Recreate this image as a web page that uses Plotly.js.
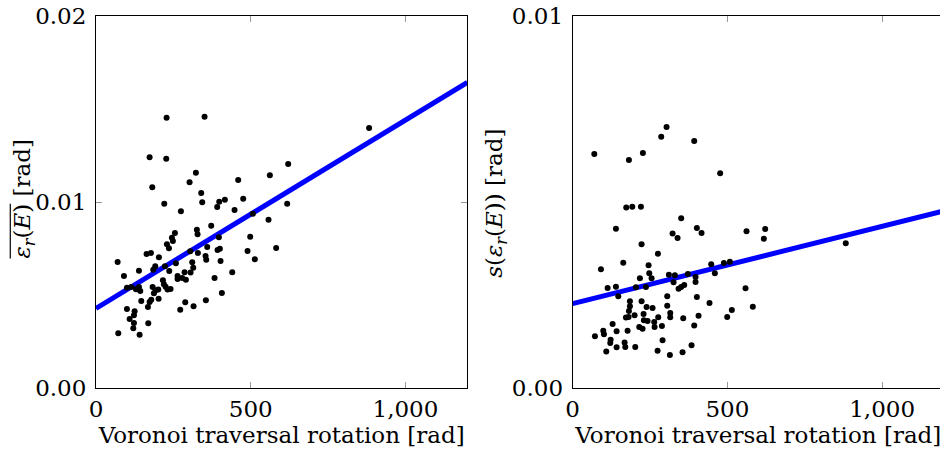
<!DOCTYPE html>
<html>
<head>
<meta charset="utf-8">
<script src="https://cdn.plot.ly/plotly-3.0.1.min.js"></script>
<style>
html,body{margin:0;padding:0;overflow:hidden;background:#fff;}
#chart{width:950px;height:455px;}
</style>
</head>
<body>
<div id="chart"></div>
<script>
// Left panel: mean rotation error vs Voronoi traversal rotation
const meanX = [228.1,350.8,173.2,227.0,322.8,302.4,181.8,459.5,561.8,621.0,340.0,220.6,343.3,398.2,416.5,391.7,475.7,447.7,274.4,617.8,506.9,557.5,326.0,328.2,372.3,255.0,245.3,248.5,229.2,235.6,397.1,359.4,400.3,392.8,498.3,489.7,582.2,513.3,304.5,329.3,354.0,356.2,163.5,177.5,203.3,402.5,69.9,258.2,311.0,191.5,185.0,222.7,236.7,138.8,90.3,314.2,305.6,286.2,263.6,263.6,278.7,290.5,440.2,383.1,216.3,219.5,224.9,231.3,241.0,182.9,192.6,201.2,187.2,100.0,114.0,129.1,138.8,143.1,406.8,202.3,178.6,173.2,146.3,167.8,288.4,315.3,355.1,272.2,100.0,124.8,122.6,108.6,122.6,120.5,168.9,72.0,140.9,882.6];
const meanY = [0.014536,0.014590,0.012403,0.012331,0.011579,0.011059,0.010790,0.011185,0.011435,0.012045,0.010486,0.009912,0.009984,0.010020,0.010127,0.009733,0.010181,0.009572,0.009500,0.009912,0.009375,0.009052,0.008514,0.008263,0.008729,0.008335,0.008084,0.007905,0.007726,0.007511,0.008102,0.007582,0.007493,0.007421,0.008138,0.007367,0.007529,0.006919,0.007349,0.007260,0.007099,0.006901,0.007206,0.007260,0.007027,0.006830,0.006776,0.006704,0.006758,0.006543,0.006364,0.006543,0.006292,0.006310,0.006023,0.006471,0.006203,0.006220,0.006023,0.005862,0.005916,0.005826,0.006220,0.005916,0.005790,0.005575,0.005450,0.005289,0.005324,0.005432,0.005253,0.005289,0.005091,0.005396,0.005432,0.005306,0.005432,0.005217,0.005109,0.004805,0.004751,0.004625,0.004679,0.004357,0.004608,0.004392,0.004715,0.004213,0.004249,0.004124,0.003909,0.003711,0.003496,0.003210,0.003478,0.002941,0.002869,0.013978];

// Right panel: standard deviation of rotation error
const sdX = [69.9,181.8,227.0,286.2,303.4,392.8,476.7,173.2,192.6,220.6,350.8,139.8,401.4,416.5,322.8,339.0,561.8,622.1,617.8,222.7,275.5,91.4,163.5,245.3,247.5,255.0,217.3,311.0,330.4,372.3,397.1,397.1,326.0,360.5,350.8,342.2,447.7,459.5,488.6,508.0,112.9,139.8,147.4,204.4,236.7,558.6,305.6,401.4,442.3,582.2,514.4,499.4,185.0,185.0,181.8,222.7,238.9,258.2,305.6,315.3,315.3,200.1,172.1,229.2,230.2,242.1,276.5,263.6,264.7,288.4,357.3,406.8,392.8,215.2,225.9,129.1,142.0,177.5,98.9,101.1,72.0,122.6,121.5,108.6,142.0,167.8,170.0,202.3,290.5,274.4,314.2,355.1,384.2,180.7,882.6];
const sdY = [0.006291,0.006130,0.006318,0.006757,0.007017,0.006641,0.005772,0.004849,0.004875,0.004875,0.004562,0.004284,0.004302,0.004168,0.004150,0.004033,0.004212,0.004275,0.004015,0.003863,0.003612,0.003191,0.003370,0.003298,0.003083,0.002949,0.002949,0.003047,0.003030,0.003065,0.002985,0.002850,0.002841,0.002770,0.002716,0.002671,0.003325,0.003083,0.003361,0.003397,0.002689,0.002725,0.002465,0.002707,0.002716,0.002680,0.002465,0.002447,0.002286,0.002187,0.002098,0.001909,0.002331,0.002196,0.002071,0.002331,0.002178,0.002151,0.002214,0.002017,0.001901,0.001954,0.001892,0.001990,0.001820,0.001802,0.001901,0.001775,0.001641,0.001668,0.001874,0.001945,0.001677,0.001641,0.001596,0.001721,0.001524,0.001542,0.001542,0.001444,0.001390,0.001300,0.001211,0.000978,0.001094,0.001220,0.001103,0.001103,0.001282,0.001004,0.000888,0.000960,0.001148,0.001909,0.003890];

// Linear fit end points
const fitX = [0, 1200];
const fitMeanY = [0.00428, 0.01643];
const fitSdY = [0.00227, 0.00476];

const xTicks = [0, 500, 1000];
const xTickText = ['0', '500', '1,000'];
const yTicksLeft = [0, 0.01, 0.02];
const yTickTextLeft = ['0.00', '0.01', '0.02'];
const yTicksRight = [0, 0.01];
const yTickTextRight = ['0.00', '0.01'];
const xTitle = 'Voronoi traversal rotation [rad]';
const yTitleLeft = '<i>ε</i><sub><i>r</i></sub>(<i>E</i>) [rad]';
const yTitleRight = '<i>s</i>(<i>ε</i><sub><i>r</i></sub>(<i>E</i>)) [rad]';

const FONT = '"DejaVu Serif", serif';
const FS = 23;
const dot = {color:'#000', size:6};
const blue = {color:'#0000ff', width:5};

const traces = [
  {x:fitX, y:fitMeanY, mode:'lines', line:blue, xaxis:'x', yaxis:'y', hoverinfo:'skip'},
  {x:meanX, y:meanY, mode:'markers', marker:dot, xaxis:'x', yaxis:'y'},
  {x:fitX, y:fitSdY, mode:'lines', line:blue, xaxis:'x2', yaxis:'y2', hoverinfo:'skip'},
  {x:sdX, y:sdY, mode:'markers', marker:dot, xaxis:'x2', yaxis:'y2'}
];

function xax(domain, anchor){
  return {domain:domain, anchor:anchor, range:[0,1200], tickvals:xTicks, ticktext:xTickText,
    ticks:'inside', ticklen:6, tickcolor:'#999', showline:true, linecolor:'#000', linewidth:1,
    mirror:'ticks', showgrid:false, zeroline:false,
    tickfont:{family:FONT, size:FS, color:'#000'},
    title:{text:xTitle, font:{family:FONT, size:FS, color:'#000'}, standoff:2}};
}
function yax(domain, anchor, range, tv, tt){
  return {domain:domain, anchor:anchor, range:range, tickvals:tv, ticktext:tt,
    ticks:'inside', ticklen:6, tickcolor:'#999', showline:true, linecolor:'#000', linewidth:1,
    mirror:'ticks', showgrid:false, zeroline:false, ticklabelstandoff:4,
    tickfont:{family:FONT, size:FS, color:'#000'}};
}

const layout = {
  width:950, height:455,
  margin:{l:95.7, r:5.7, t:15.7, b:67.3},
  paper_bgcolor:'#fff', plot_bgcolor:'#fff',
  showlegend:false,
  xaxis: xax([0,0.4379], 'y'),
  yaxis: yax([0,1], 'x', [0,0.02], yTicksLeft, yTickTextLeft),
  xaxis2: xax([0.5621,1], 'y2'),
  yaxis2: yax([0,1], 'x2', [0,0.01], yTicksRight, yTickTextRight),
  annotations: [
    {text:yTitleLeft, xref:'paper', yref:'paper', x:-0.0845, y:0.51, xanchor:'center', yanchor:'middle',
     textangle:-90, showarrow:false, font:{family:FONT, size:FS, color:'#000'}},
    {text:yTitleRight, xref:'paper', yref:'paper', x:0.4717, y:0.495, xanchor:'center', yanchor:'middle',
     textangle:-90, showarrow:false, font:{family:FONT, size:FS, color:'#000'}}
  ]
};

Plotly.newPlot('chart', traces, layout, {staticPlot:true, displayModeBar:false}).then(function(gd){
  // overline over the mean symbol in the left y title
  const t = gd.querySelector('.annotation-text');
  if (!t) return;
  const txt = t.textContent;
  const k = txt.indexOf(')');
  if (k < 0) return;
  const p0 = t.getStartPositionOfChar(0);
  const p1 = t.getEndPositionOfChar(k);
  const ln = document.createElementNS('http://www.w3.org/2000/svg', 'line');
  const yy = p0.y - 0.86 * FS;
  ln.setAttribute('x1', p0.x);
  ln.setAttribute('x2', p1.x);
  ln.setAttribute('y1', yy);
  ln.setAttribute('y2', yy);
  ln.setAttribute('stroke', '#000');
  ln.setAttribute('stroke-width', '1.2');
  const tr = t.getAttribute('transform');
  if (tr) ln.setAttribute('transform', tr);
  t.parentNode.appendChild(ln);
});
</script>
</body>
</html>
